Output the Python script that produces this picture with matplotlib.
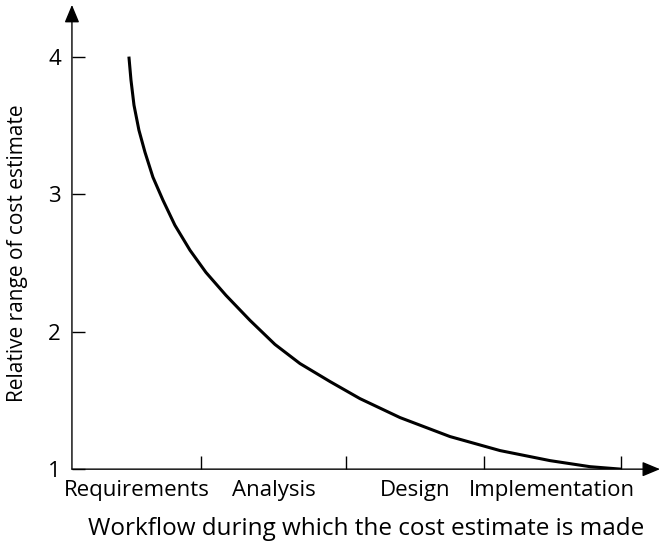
import numpy as np
import matplotlib.pyplot as plt

plt.rcParams['font.family'] = ['Open Sans', 'DejaVu Sans']

# workflow boundaries (x) and phase names
boundaries = [0.94, 2.0, 3.0, 4.0]
phases = ["Requirements", "Analysis", "Design", "Implementation"]
yticks = [1, 2, 3, 4]

# relative range of the cost estimate
x = np.array([0.415, 0.430, 0.452, 0.488, 0.532, 0.590, 0.663, 0.750, 0.860,
              0.976, 1.122, 1.297, 1.479, 1.661, 1.880, 2.098, 2.390, 2.754,
              3.119, 3.483, 3.774, 4.0])
y = np.array([4.0, 3.830, 3.647, 3.465, 3.305, 3.123, 2.956, 2.774, 2.592,
              2.431, 2.264, 2.082, 1.907, 1.768, 1.637, 1.513, 1.375, 1.237,
              1.135, 1.062, 1.018, 1.0])

fig = plt.figure(figsize=(6.6, 5.43), dpi=100)
ax = fig.add_axes([0.109, 0.136, 0.891, 0.855])

ax.plot(x, y, color="black", lw=2.2, solid_capstyle="butt",
        solid_joinstyle="round")

ax.set_xlim(0, 4.284)
ax.set_ylim(1, 4.376)

for s in ax.spines.values():
    s.set_visible(False)

# axes with arrow heads
arrow = dict(arrowstyle="-|>,head_length=0.6,head_width=0.25", color="black",
             lw=1.0, mutation_scale=18, shrinkA=0, shrinkB=0)
ax.annotate("", xy=(1, 0), xytext=(0, 0), xycoords="axes fraction",
            arrowprops=arrow, annotation_clip=False)
ax.annotate("", xy=(0, 1), xytext=(0, 0), xycoords="axes fraction",
            arrowprops=arrow, annotation_clip=False)

# ticks at phase boundaries, phase names centred between them
ax.set_xticks(boundaries)
ax.set_xticklabels([])
mids = [(a + b) / 2 for a, b in zip([0] + boundaries[:-1], boundaries)]
ax.set_xticks(mids, phases, minor=True)
ax.tick_params(axis="x", which="major", direction="in", length=9.5, width=1.0)
ax.tick_params(axis="x", which="minor", length=0, pad=8, labelsize=16)

ax.set_yticks(yticks)
ax.tick_params(axis="y", direction="in", length=9.5, width=1.0, pad=8,
               labelsize=16)

ax.set_xlabel("Workflow during which the cost estimate is made", fontsize=17.5,
              labelpad=11)
ax.set_ylabel("Relative range of cost estimate", fontsize=15)
ax.yaxis.set_label_coords(-0.074, 0.466)

fig.savefig("out.png", dpi=100)
